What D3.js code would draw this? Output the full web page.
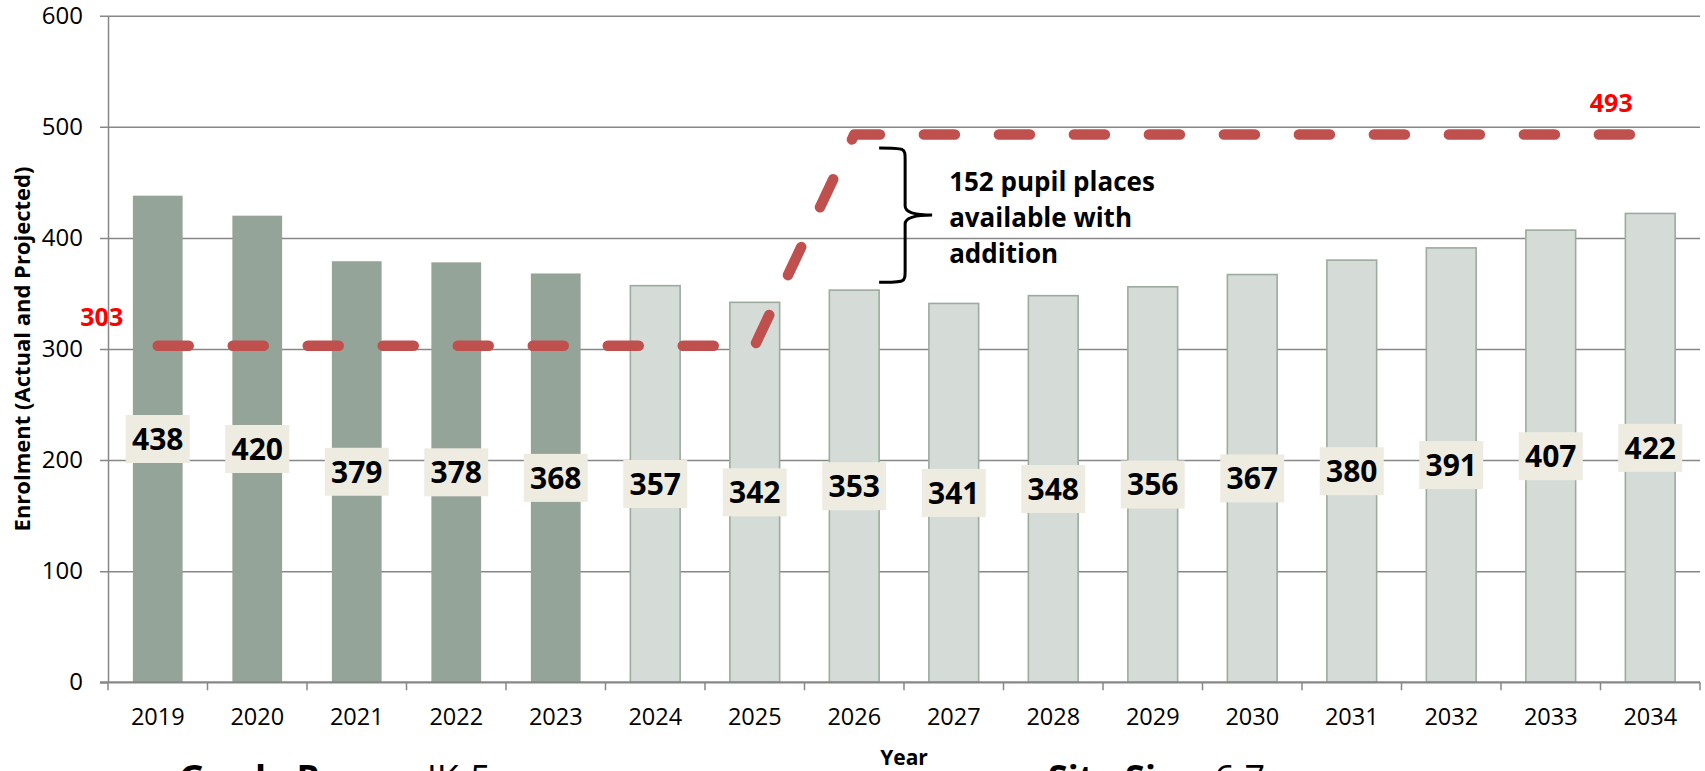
<!DOCTYPE html>
<html>
<head>
<meta charset="utf-8">
<script src="https://cdn.jsdelivr.net/npm/d3@7"></script>
<style>
  html, body { margin: 0; padding: 0; background: #fff; }
  svg { display: block; font-family: 'Open Sans', sans-serif; }
</style>
</head>
<body>
<div class="canvas"></div>
<script>
// chart values
const years = ['2019','2020','2021','2022','2023','2024','2025','2026','2027','2028','2029','2030','2031','2032','2033','2034'];
const enrolment = [438, 420, 379, 378, 368, 357, 342, 353, 341, 348, 356, 367, 380, 391, 407, 422];
const actualYears = ['2019','2020','2021','2022','2023'];
const capacity = [303, 303, 303, 303, 303, 303, 303, 493, 493, 493, 493, 493, 493, 493, 493, 493];
const yTicks = [0, 100, 200, 300, 400, 500, 600];
const noteLines = ['152 pupil places', 'available with', 'addition'];

const width = 1705, height = 771;
const plotLeft = 108, plotRight = 1700, plotTop = 15.7, plotBottom = 682.3;

const svg = d3.select('.canvas')
  .append('svg')
    .attr('width', width)
    .attr('height', height);

const y = d3.scaleLinear()
  .domain([0, 600])
  .range([plotBottom, plotTop]);

const x = d3.scaleBand()
  .domain(years)
  .range([plotLeft, plotRight])
  .paddingInner(0.5)
  .paddingOuter(0.25);

const bw = x.bandwidth();
const cx = d => x(d) + bw / 2;

// gridlines + y axis
const yAxis = d3.axisLeft(y)
  .tickValues(yTicks)
  .tickSize(8)
  .tickSizeOuter(0)
  .tickPadding(17);

const yAxisGroup = svg.append('g')
  .attr('transform', `translate(${plotLeft},0)`)
  .call(yAxis);

yAxisGroup.select('.domain').attr('stroke', '#878787').attr('stroke-width', 1.5);
yAxisGroup.selectAll('.tick line')
  .attr('x1', -8)
  .attr('x2', d => d === 0 ? 0 : plotRight - plotLeft)
  .attr('stroke', '#878787')
  .attr('stroke-width', 1.5);
yAxisGroup.selectAll('.tick text')
  .attr('font-size', 24)
  .attr('font-family', "'Open Sans', sans-serif")
  .attr('fill', '#000');

// bars
svg.append('g').selectAll('rect')
  .data(years)
  .enter()
  .append('rect')
    .attr('x', d => x(d))
    .attr('y', (d, i) => y(enrolment[i]))
    .attr('width', bw)
    .attr('height', (d, i) => y(0) - y(enrolment[i]))
    .attr('fill', d => actualYears.includes(d) ? '#94A499' : '#D5DCD8')
    .attr('stroke', d => actualYears.includes(d) ? 'none' : '#9BAB9F')
    .attr('stroke-width', 1.6);

// x axis
const xAxisGroup = svg.append('g')
  .attr('transform', `translate(0,${plotBottom})`);

xAxisGroup.append('line')
  .attr('x1', plotLeft - 8).attr('x2', plotRight)
  .attr('stroke', '#878787').attr('stroke-width', 2.2);

const bounds = d3.range(years.length + 1).map(i => plotLeft + i * x.step());
xAxisGroup.selectAll('.xtick')
  .data(bounds)
  .enter()
  .append('line')
    .attr('x1', d => d).attr('x2', d => d)
    .attr('y1', 0).attr('y2', 8)
    .attr('stroke', '#878787').attr('stroke-width', 1.5);

xAxisGroup.selectAll('.xlabel')
  .data(years)
  .enter()
  .append('text')
    .attr('x', d => cx(d))
    .attr('y', 43)
    .attr('text-anchor', 'middle')
    .attr('font-size', 23.5)
    .text(d => d);

// axis titles
svg.append('text')
  .attr('transform', `translate(30,${(plotTop + plotBottom) / 2}) rotate(-90)`)
  .attr('text-anchor', 'middle')
  .attr('font-size', 22)
  .attr('font-weight', 'bold')
  .text('Enrolment (Actual and Projected)');

svg.append('text')
  .attr('x', (plotLeft + plotRight) / 2)
  .attr('y', 765)
  .attr('text-anchor', 'middle')
  .attr('font-size', 21)
  .attr('font-weight', 'bold')
  .text('Year');

// capacity line
const line = d3.line()
  .x(d => cx(d.year))
  .y(d => y(d.cap));

const capData = years.map((d, i) => ({year: d, cap: capacity[i]}));

svg.append('path')
  .datum(capData)
  .attr('d', line)
  .attr('fill', 'none')
  .attr('stroke', '#C0504D')
  .attr('stroke-width', 10.5)
  .attr('stroke-linecap', 'round')
  .attr('stroke-linejoin', 'round')
  .attr('stroke-dasharray', '31,44');

svg.append('text')
  .attr('x', cx(years[0]) - 56)
  .attr('y', y(capacity[0]) - 20)
  .attr('text-anchor', 'middle')
  .attr('font-size', 25)
  .attr('font-weight', 'bold')
  .attr('fill', '#FF0000')
  .text(capacity[0]);

svg.append('text')
  .attr('x', cx(years[years.length - 1]) - 39)
  .attr('y', y(capacity[capacity.length - 1]) - 23)
  .attr('text-anchor', 'middle')
  .attr('font-size', 25)
  .attr('font-weight', 'bold')
  .attr('fill', '#FF0000')
  .text(capacity[capacity.length - 1]);

// value labels
const labels = svg.append('g').selectAll('g')
  .data(years)
  .enter()
  .append('g')
    .attr('transform', (d, i) => `translate(${cx(d)},${y(enrolment[i] / 2)})`);

labels.append('rect')
  .attr('x', -32).attr('y', -24)
  .attr('width', 64).attr('height', 48)
  .attr('fill', '#EEECE1');

labels.append('text')
  .attr('text-anchor', 'middle')
  .attr('dy', '0.36em')
  .attr('font-size', 30)
  .attr('font-weight', 'bold')
  .text((d, i) => enrolment[i]);

// brace annotation
const x0 = x('2026') + bw;
const x1 = x0 + 26;
const tip = x0 + 53;
const yT = y(481), yB = y(360), yM = (yT + yB) / 2;

svg.append('path')
  .attr('d', `M${x0},${yT} C${x1},${yT} ${x1},${yT} ${x1},${yT + 12} L${x1},${yM - 9} Q${x1},${yM} ${tip},${yM} Q${x1},${yM} ${x1},${yM + 9} L${x1},${yB - 12} C${x1},${yB} ${x1},${yB} ${x0},${yB}`)
  .attr('fill', 'none')
  .attr('stroke', '#000')
  .attr('stroke-width', 3);

svg.append('g').selectAll('text')
  .data(noteLines)
  .enter()
  .append('text')
    .attr('x', tip + 17)
    .attr('y', (d, i) => yM - 24 + i * 36)
    .attr('font-size', 26)
    .attr('font-weight', 'bold')
    .text(d => d);

// footer (cut off at bottom edge, as in the source)
const footer = svg.append('g').attr('font-size', 36);
const f1 = footer.append('text').attr('x', 179).attr('y', 791);
f1.append('tspan').attr('font-weight', 'bold').text('Grade Range:');
f1.append('tspan').text(' JK-5');
const f2 = footer.append('text').attr('x', 1048).attr('y', 791);
f2.append('tspan').attr('font-weight', 'bold').text('Site Size:');
f2.append('tspan').text(' 6.7');
</script>
</body>
</html>
